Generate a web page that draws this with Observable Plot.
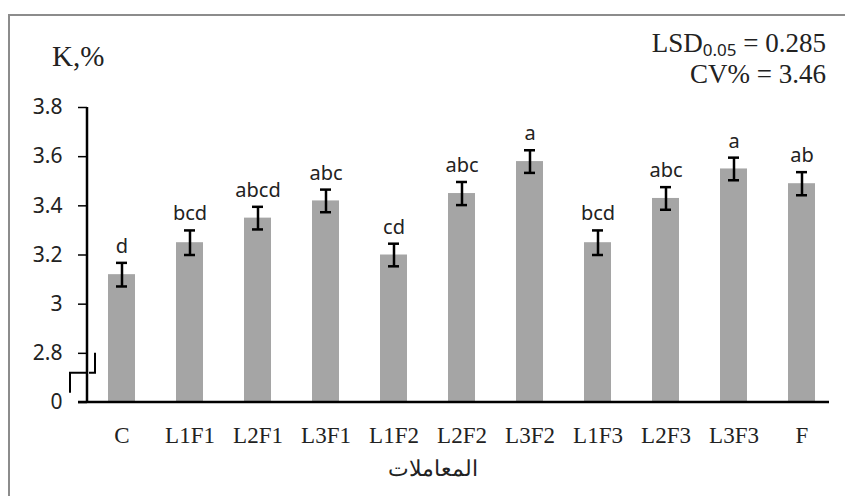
<!DOCTYPE html>
<html>
<head>
<meta charset="utf-8">
<script src="https://cdn.jsdelivr.net/npm/d3@7"></script>
<script src="https://cdn.jsdelivr.net/npm/@observablehq/plot@0.6"></script>
<style>
  html, body { margin: 0; padding: 0; background: #fff; }
  #wrap { position: relative; width: 845px; height: 496px; overflow: hidden; }
  #frame { position: absolute; left: 8px; top: 14px; width: 900px; height: 600px; border: 2px solid #8c8c8c; box-sizing: border-box; }
  #ytitle { position: absolute; left: 52px; top: 39px; font: 29px "Liberation Serif", serif; color: #222; line-height: 34px; }
  #stats { position: absolute; right: 19px; top: 28px; text-align: right; font: 27px "Liberation Serif", serif; color: #222; line-height: 31px; }
  #stats sub { font: 17px "Noto Sans", sans-serif; vertical-align: -4px; line-height: 0; }
  #xtitle { position: absolute; left: 0; width: 866px; top: 456px; text-align: center; font: 22px "DejaVu Serif", serif; color: #222; }
  #chart { position: absolute; left: 0; top: 0; }
</style>
</head>
<body>
<div id="wrap">
  <div id="frame"></div>
  <div id="chart"></div>
  <div id="ytitle">K,%</div>
  <div id="stats">LSD<sub>0.05</sub> = 0.285<br>CV% = 3.46</div>
  <div id="xtitle" dir="rtl">المعاملات</div>
</div>
<script>
const categories = ["C", "L1F1", "L2F1", "L3F1", "L1F2", "L2F2", "L3F2", "L1F3", "L2F3", "L3F3", "F"];
const values = [3.12, 3.25, 3.35, 3.42, 3.20, 3.45, 3.58, 3.25, 3.43, 3.55, 3.49];
const errors = [0.048, 0.05, 0.046, 0.046, 0.046, 0.047, 0.046, 0.05, 0.046, 0.046, 0.047];
const letters = ["d", "bcd", "abcd", "abc", "cd", "abc", "a", "bcd", "abc", "a", "ab"];
const yTicks = [2.6, 2.8, 3.0, 3.2, 3.4, 3.6, 3.8];
const yBase = 2.6; // broken axis: shown as 0

const data = categories.map((c, i) => ({cat: c, v: values[i], e: errors[i], lab: letters[i]}));

const plot = Plot.plot({
  width: 845,
  height: 496,
  marginLeft: 87,
  marginRight: 9,
  marginTop: 107,
  marginBottom: 94,
  style: {background: "transparent", color: "#222"},
  x: {domain: categories, paddingInner: 0.6, paddingOuter: 0.3},
  y: {domain: [yBase, 3.8]},
  marks: [
    Plot.barY(data, {x: "cat", y1: yBase, y2: "v", fill: "#a5a5a5"}),
    Plot.ruleX(data, {x: "cat", y1: d => d.v - d.e, y2: d => d.v + d.e, stroke: "#000", strokeWidth: 2.5}),
    Plot.tickY(data, {x: "cat", y: d => d.v + d.e, stroke: "#000", strokeWidth: 2.5, insetLeft: 8, insetRight: 8}),
    Plot.tickY(data, {x: "cat", y: d => d.v - d.e, stroke: "#000", strokeWidth: 2.5, insetLeft: 8, insetRight: 8}),
    Plot.text(data, {x: "cat", y: d => d.v + d.e, text: "lab", dy: -10, lineAnchor: "bottom", fontSize: 20, fontFamily: "Noto Sans", fill: "#222"}),
    Plot.axisY({ticks: yTicks, tickSize: 9, tickPadding: 16, fontSize: 21, fontFamily: "Noto Sans", fill: "#222", stroke: "#000", strokeWidth: 1.5, label: null,
      tickFormat: d => Math.abs(d - yBase) < 1e-9 ? "0" : String(+d.toFixed(1))}),
    Plot.axisX({tickSize: 0, tickPadding: 24, fontSize: 23, fontFamily: "Liberation Serif", fill: "#222", label: null})
  ]
});
document.getElementById("chart").appendChild(plot);

// axis lines and break symbol (decorations placed via the scales)
const ys = plot.scale("y");
const svg = d3.select(plot);
const y0 = ys.apply(yBase), yTop = ys.apply(3.8), y28 = ys.apply(2.8);
const ax = 87;
const g = svg.append("g").attr("stroke", "#000").attr("stroke-width", 2.5).attr("fill", "none");
g.append("line").attr("x1", ax).attr("x2", ax).attr("y1", yTop).attr("y2", y0);
g.append("line").attr("x1", 78).attr("x2", 829).attr("y1", y0).attr("y2", y0);
const yb = y28 + 20;
g.append("path").attr("d", `M${ax - 17},${yb + 20} V${yb} H${ax}`).attr("stroke-width", 2);
g.append("path").attr("d", `M${ax + 2},${yb} H${ax + 8} V${y28}`).attr("stroke-width", 2);
</script>
</body>
</html>
